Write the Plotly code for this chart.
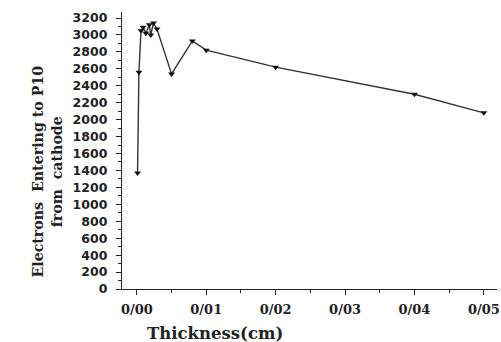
import plotly.graph_objects as go

thickness = [0.0001, 0.0003, 0.0006, 0.0009, 0.0013, 0.0018, 0.0020, 0.0024, 0.0029,
             0.005, 0.008, 0.010, 0.020, 0.040, 0.050]
electrons = [1370, 2560, 3050, 3090, 3020, 3120, 3000, 3140, 3070,
             2540, 2930, 2820, 2620, 2300, 2080]

x_tickvals = [0.0, 0.01, 0.02, 0.03, 0.04, 0.05]
x_ticktext = ["0/00", "0/01", "0/02", "0/03", "0/04", "0/05"]
y_tickvals = list(range(0, 3201, 200))

fig = go.Figure()
fig.add_trace(go.Scatter(
    x=thickness, y=electrons, mode="lines+markers",
    line=dict(color="#333333", width=1.4),
    marker=dict(symbol="triangle-down", size=6, color="#111111"),
    showlegend=False,
))

fig.update_layout(
    width=501, height=342,
    margin=dict(l=122, r=1, t=12, b=53),
    plot_bgcolor="white", paper_bgcolor="white",
    xaxis=dict(
        range=[-0.00214, 0.0519], showgrid=False, zeroline=False,
        showline=True, linecolor="#222222", linewidth=1.2,
        tickmode="array", tickvals=x_tickvals, ticktext=x_ticktext,
        ticks="outside", ticklen=5, tickcolor="#222222", tickwidth=1,
        minor=dict(ticks="outside", ticklen=3, dtick=0.005, tickcolor="#222222"),
        tickfont=dict(family="DejaVu Serif", size=13, color="#222222", weight="bold"),
        ticklabeloverflow="allow", ticklabelstandoff=3,
    ),
    yaxis=dict(
        range=[0, 3271], showgrid=False, zeroline=False,
        showline=True, linecolor="#222222", linewidth=1.2,
        tickmode="array", tickvals=y_tickvals,
        ticks="outside", ticklen=5, tickcolor="#222222", tickwidth=1,
        minor=dict(ticks="outside", ticklen=3, dtick=100, tickcolor="#222222"),
        tickfont=dict(family="DejaVu Sans", size=12.5, color="#222222", weight="bold"),
        ticklabelstandoff=6,
    ),
    annotations=[
        dict(text="Thickness(cm)", xref="paper", yref="paper", x=0.249, y=-0.159,
             xanchor="center", yanchor="middle", showarrow=False,
             font=dict(family="DejaVu Serif", size=16.5, color="#222222", weight="bold")),
        dict(text="Electrons  Entering to P10<br>from  cathode", xref="paper", yref="paper",
             x=-0.2, y=0.424, xanchor="center", yanchor="middle", showarrow=False,
             textangle=-90,
             font=dict(family="DejaVu Serif", size=14.2, color="#222222", weight="bold")),
    ],
)

fig.write_html("out.html", config={"displayModeBar": False},
               post_script="document.body.style.margin='0px';")
